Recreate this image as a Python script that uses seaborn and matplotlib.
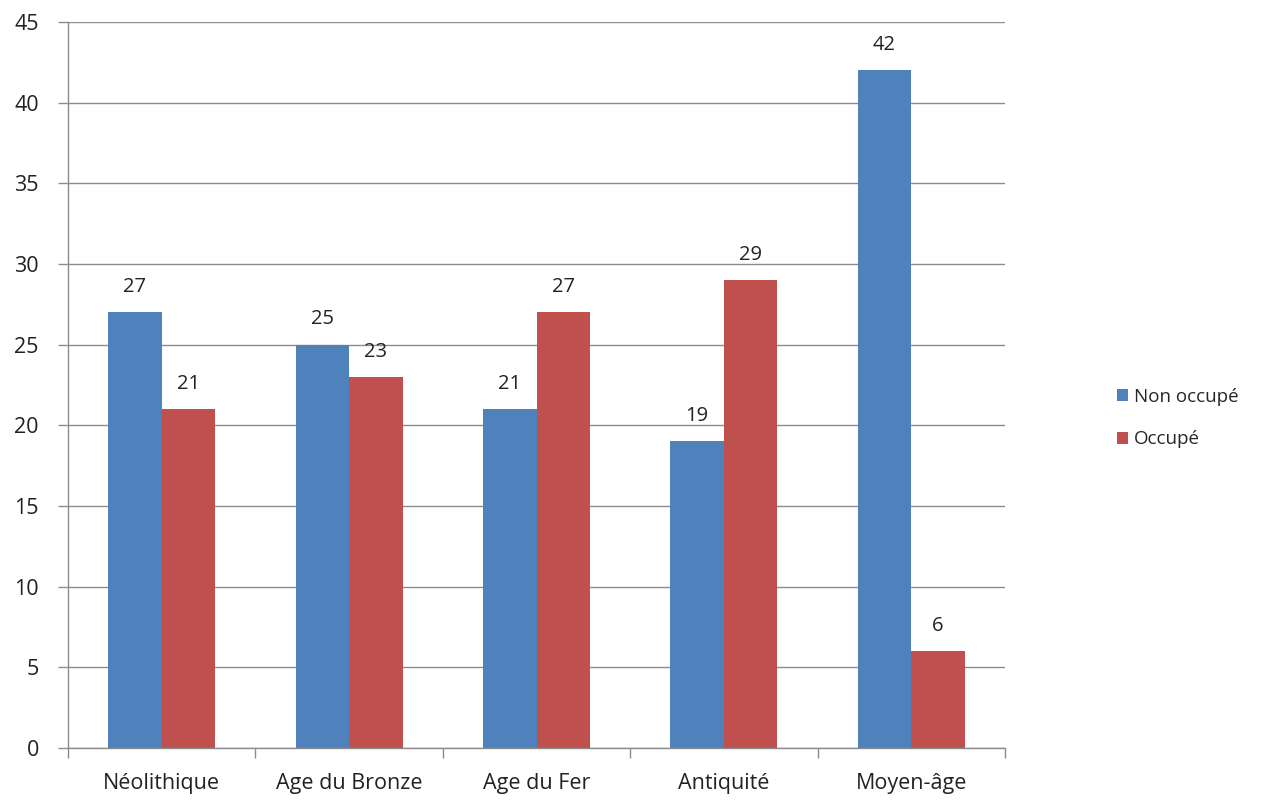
import matplotlib
matplotlib.use("Agg")
import matplotlib.pyplot as plt
import seaborn as sns
import pandas as pd
from matplotlib.patches import Patch

categories = ["Néolithique", "Age du Bronze", "Age du Fer", "Antiquité", "Moyen-âge"]
series_names = ["Non occupé", "Occupé"]
non_occupe = [27, 25, 21, 19, 42]
occupe = [21, 23, 27, 29, 6]
yticks = [0, 5, 10, 15, 20, 25, 30, 35, 40, 45]
colors = ["#4F81BD", "#C0504D"]

df = pd.DataFrame({
    "Période": categories * 2,
    "Série": [series_names[0]] * len(categories) + [series_names[1]] * len(categories),
    "Valeur": non_occupe + occupe,
})

sns.set_style("white")
plt.rcParams["font.family"] = ["Open Sans", "DejaVu Sans"]

fig = plt.figure(figsize=(12.74, 8.07), dpi=100)
ax = fig.add_axes([68 / 1274, 59 / 807, 937 / 1274, 726 / 807])

sns.barplot(data=df, x="Période", y="Valeur", hue="Série", palette=colors,
            width=0.57, saturation=1, ax=ax, legend=False, errorbar=None,
            linewidth=0, edgecolor="none")

for cont in ax.containers:
    ax.bar_label(cont, padding=11, fontsize=14.5, color="#222222")

fs = 15.5
ax.set_xlim(-0.5, len(categories) - 0.5)
ax.set_ylim(0, 45)
ax.set_yticks(yticks)
ax.set_yticklabels([str(t) for t in yticks], fontsize=fs, color="#222222")
ax.yaxis.grid(True, color="#8c8c8c", linewidth=1)
ax.set_axisbelow(True)
ax.set_xlabel("")
ax.set_ylabel("")
ax.set_xticks(range(len(categories)))
ax.set_xticklabels(categories, fontsize=fs, color="#222222")
ax.set_xticks([i - 0.5 for i in range(len(categories) + 1)], minor=True)
ax.tick_params(axis="x", which="major", bottom=True, length=0, pad=18)
ax.tick_params(axis="x", which="minor", bottom=True, length=7, width=1, color="#8c8c8c", direction="out")
ax.tick_params(axis="y", which="major", left=True, length=7, width=1, color="#8c8c8c", direction="out", pad=14)

for s in ["top", "right"]:
    ax.spines[s].set_visible(False)
for s in ["left", "bottom"]:
    ax.spines[s].set_color("#8c8c8c")
    ax.spines[s].set_linewidth(1)

handles = [Patch(facecolor=c, edgecolor="none") for c in colors]
fig.legend(handles, series_names, loc="center left", bbox_to_anchor=(1100 / 1274, 1 - 418 / 807),
           frameon=False, fontsize=13.5, handlelength=0.6, handleheight=0.6,
           handletextpad=0.3, labelspacing=1.3)

fig.savefig("out.png", dpi=100, facecolor="white")
